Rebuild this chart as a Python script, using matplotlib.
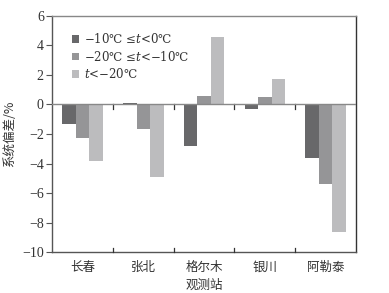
import matplotlib
matplotlib.use("Agg")
import matplotlib.pyplot as plt
import numpy as np

plt.rcParams['font.family'] = ['Liberation Serif', 'Noto Sans CJK SC', 'DejaVu Sans']
plt.rcParams['mathtext.fontset'] = 'custom'
plt.rcParams['mathtext.it'] = 'DejaVu Serif:italic'
plt.rcParams['mathtext.rm'] = 'DejaVu Serif'

stations = ['长春', '张北', '格尔木', '银川', '阿勒泰']
s1 = [-1.35, 0.1, -2.8, -0.3, -3.6]
s2 = [-2.3, -1.65, 0.55, 0.5, -5.4]
s3 = [-3.85, -4.9, 4.6, 1.75, -8.65]
labels = ['−10℃ ≤$t$<0℃', '−20℃ ≤$t$<−10℃', '$t$<−20℃']
colors = ['#68686a', '#959597', '#bcbcbe']
yticks = [-10, -8, -6, -4, -2, 0, 2, 4, 6]

fig = plt.figure(figsize=(3.89, 2.93), dpi=100)
ax = fig.add_axes([0.134, 0.139, 0.781, 0.807])
x = np.arange(len(stations))
w = 0.222
for i, (vals, lab, c) in enumerate(zip([s1, s2, s3], labels, colors)):
    ax.bar(x + (i - 1) * w, vals, width=w, color=c, label=lab, zorder=2)

ax.set_xlim(-0.5, len(stations) - 0.5)
ax.set_ylim(-10, 6)
ax.set_yticks(yticks)
ax.set_yticklabels([str(v).replace('-', '−') for v in yticks], fontsize=10, color='#333333')
ax.tick_params(axis='y', direction='out', length=4, width=0.8, color='#555555', pad=2)
ax.set_xticks(x)
ax.set_xticklabels(stations, fontsize=9, color='#333333', family=['Noto Sans CJK SC'])
ax.tick_params(axis='x', length=0, pad=6)

# category boundary ticks
bounds = x[:-1] + 0.5
for b in bounds:
    ax.plot([b, b], [-10, -9.7], color='#333333', lw=0.9, zorder=3, clip_on=False)
    ax.plot([b, b], [0, -0.3], color='#333333', lw=0.9, zorder=3)
ax.axhline(0, color='#888888', lw=1.0, zorder=3)

for s in ax.spines.values():
    s.set_linewidth(1.0)
ax.spines['top'].set_color('#888888')
ax.spines['right'].set_color('#333333')
ax.spines['left'].set_color('#555555')
ax.spines['bottom'].set_color('#555555')

ax.set_ylabel('系统偏差/%', fontsize=9, color='#333333', family=['Noto Sans CJK SC', 'DejaVu Sans'], labelpad=4)
ax.set_xlabel('观测站', fontsize=9, color='#333333', family=['Noto Sans CJK SC'], labelpad=4)

leg = ax.legend(loc='upper left', bbox_to_anchor=(0.03, 0.975), frameon=False,
                handlelength=0.6, handleheight=0.6, handletextpad=0.4, labelspacing=0.28,
                prop={'family': ['DejaVu Serif'], 'size': 8.5})
for t in leg.get_texts():
    t.set_color('#333333')

fig.savefig('out.png', dpi=100)
